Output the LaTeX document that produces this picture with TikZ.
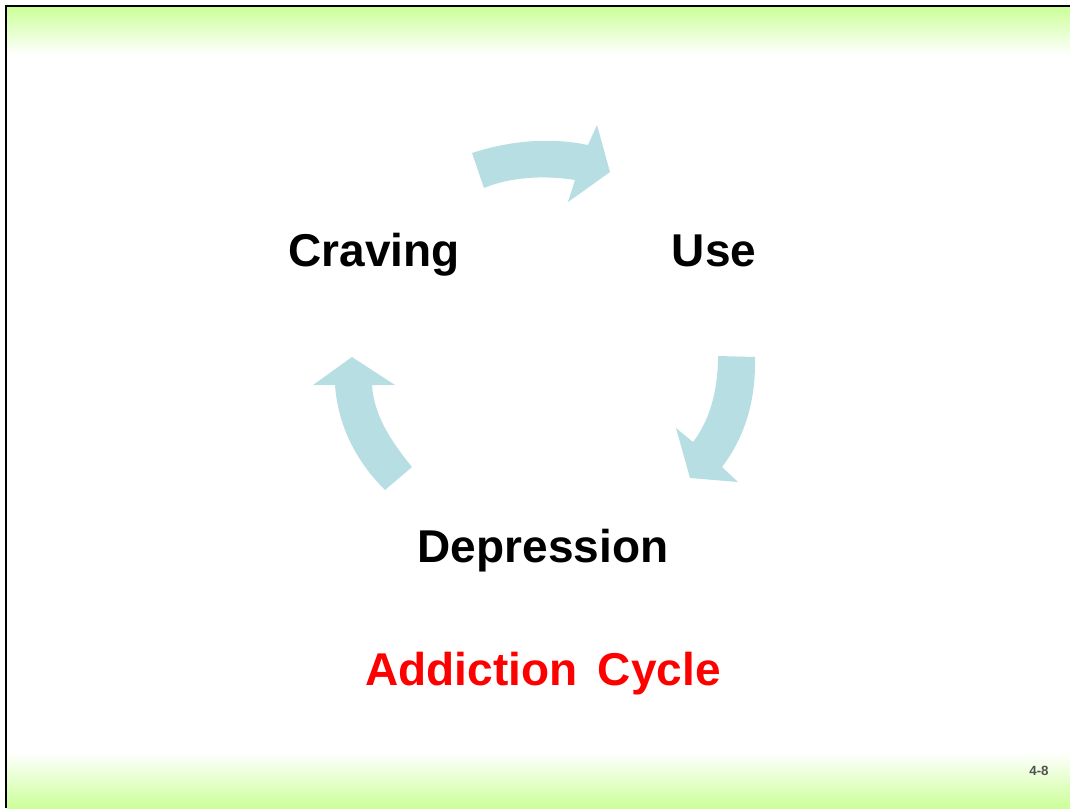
\documentclass[tikz,border=0pt]{standalone}
\usepackage{fontspec}
\setmainfont{Liberation Sans}
\definecolor{barGreen}{RGB}{204,255,153}
\definecolor{arrowBlue}{RGB}{183,222,226}
\definecolor{numGray}{RGB}{80,80,80}
\begin{document}
\begin{tikzpicture}[x=0.75pt,y=-0.75pt,
        word/.style={anchor=base,font=\bfseries\fontsize{34.5}{40}\selectfont},
        cyclearrow/.style={fill=arrowBlue}]
        \useasboundingbox (0,0) rectangle (1070,808);
        % green bars and frame
        \shade[top color=barGreen,bottom color=white] (7,7) rectangle (1070,55);
        \shade[top color=white,bottom color=barGreen] (7,752) rectangle (1070,808);
        \draw[line width=1.5pt] (6,808) -- (6,6) -- (1070,6);
        % the three arrows
        \fill[cyclearrow] (472,153) .. controls (515,139) and (555,138) .. (588,145)
            -- (597,125) -- (610,172) -- (568,202) -- (575,180)
            .. controls (545,175) and (510,177) .. (484,188) -- cycle;
        \fill[cyclearrow] (755,357) .. controls (756,400) and (745,437) .. (722,467)
            -- (738,482) -- (690,478) -- (676,428) -- (693,442)
            .. controls (710,420) and (718,390) .. (718,356) -- cycle;
        \fill[cyclearrow] (412,467) .. controls (390,440) and (374,415) .. (372,385)
            -- (395,385) -- (352,357) -- (313,385) -- (335,385)
            .. controls (338,425) and (355,460) .. (385,490) -- cycle;
        % labels
        \node[word] (craving) at (374,266) {Craving};
        \node[word] (use) at (714,266) {Use};
        \node[word] (depression) at (543,562) {Depression};
        \node[word,text=red] (title) at (543,685) {Addiction\ \,Cycle};
        \node[anchor=base,font=\bfseries\fontsize{10}{12}\selectfont,text=numGray] (pagenum) at (1039,775) {4-8};
    \end{tikzpicture}
\end{document}
